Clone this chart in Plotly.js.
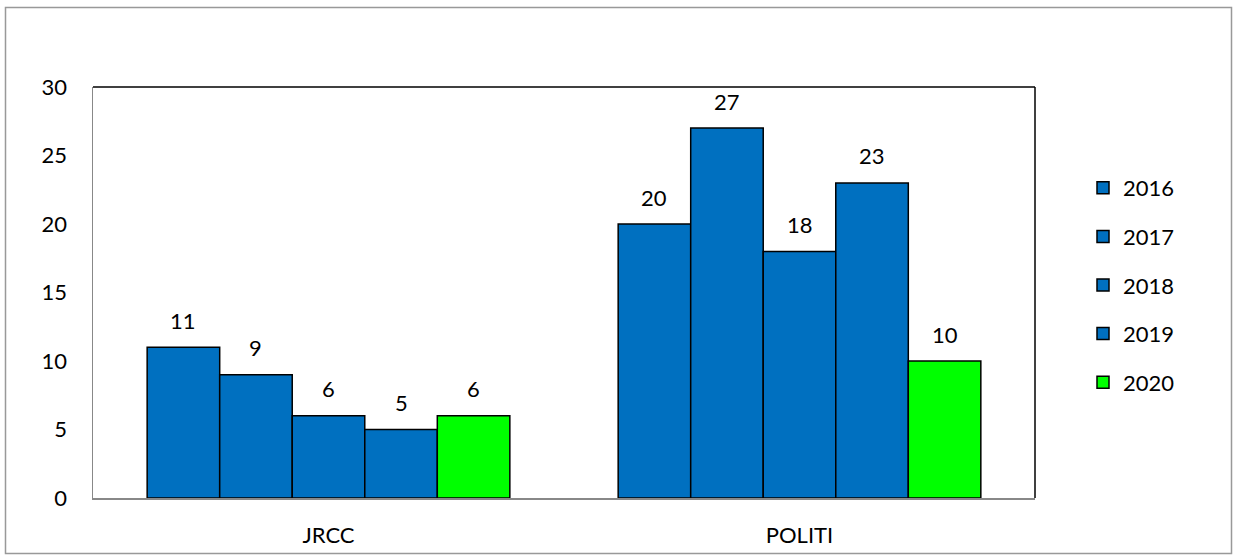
<!DOCTYPE html>
<html><head><meta charset="utf-8">
<script src="https://cdn.plot.ly/plotly-3.0.1.min.js"></script>
<style>html,body{margin:0;padding:0;background:#fff}#chart{width:1233px;height:560px}</style>
</head><body><div id="chart"></div>
<script>
const categories = ["JRCC", "POLITI"];
const years = ["2016", "2017", "2018", "2019", "2020"];
const v2016 = [11, 20];
const v2017 = [9, 27];
const v2018 = [6, 18];
const v2019 = [5, 23];
const v2020 = [6, 10];
const seriesValues = [v2016, v2017, v2018, v2019, v2020];
const colors = ["#0070C0", "#0070C0", "#0070C0", "#0070C0", "#00FF00"];

const FONT = "Lato, 'Open Sans', sans-serif";
const bargap = 0.23;
const n = years.length;
const bw = (1 - bargap) / n;

const traces = years.map((y, i) => ({
  type: "bar",
  name: y,
  x: categories,
  y: seriesValues[i],
  legendgroup: "g" + i,
  marker: {color: colors[i], line: {color: "#000", width: 1.5}},
  hoverinfo: "x+y+name"
}));

const annotations = [];
seriesValues.forEach((vals, i) => {
  vals.forEach((v, j) => {
    annotations.push({
      x: j + (i - (n - 1) / 2) * bw, y: v, xref: "x", yref: "y",
      text: String(v), showarrow: false, yanchor: "middle", yshift: 27,
      font: {family: FONT, size: 22, color: "#000"}
    });
  });
});

const L = 93, R = 1035, T = 87, B = 498;
const pw = R - L, ph = B - T;
const px = v => (v - L) / pw;
const py = v => (B - v) / ph;

const layout = {
  width: 1233, height: 560,
  margin: {l: L, r: 1233 - R, t: T, b: 560 - B, pad: 0},
  paper_bgcolor: "#fff", plot_bgcolor: "#fff",
  font: {family: FONT, size: 22, color: "#000"},
  barmode: "group", bargap: bargap, bargroupgap: 0,
  showlegend: true,
  legend: {x: px(1083), y: py(167), xanchor: "left", yanchor: "top",
           font: {family: FONT, size: 22, color: "#000"},
           traceorder: "grouped", tracegroupgap: 17, itemwidth: 30},
  xaxis: {type: "category", range: [-0.5, 1.5], showline: true, linecolor: "#888", linewidth: 1.5,
          ticks: "", ticklen: 0, showgrid: false, zeroline: false, ticklabelstandoff: 17},
  yaxis: {range: [0, 30], dtick: 5, showline: true, linecolor: "#888", linewidth: 1.5,
          ticks: "", ticklen: 0, showgrid: false, zeroline: false, ticklabelstandoff: 20},
  annotations: annotations,
  shapes: [
    {type: "line", xref: "paper", yref: "paper", x0: 0, x1: 1, y0: 1, y1: 1, line: {color: "#000", width: 1.5}},
    {type: "line", xref: "paper", yref: "paper", x0: 1, x1: 1, y0: 0, y1: 1, line: {color: "#000", width: 1.5}},
    {type: "rect", xref: "paper", yref: "paper", x0: px(5.5), x1: px(1231.5), y0: py(7.5), y1: py(553.5),
     line: {color: "#999", width: 1.5}, fillcolor: "rgba(0,0,0,0)", layer: "below"}
  ]
};

Plotly.newPlot("chart", traces, layout, {displayModeBar: false, staticPlot: true});
</script></body></html>
